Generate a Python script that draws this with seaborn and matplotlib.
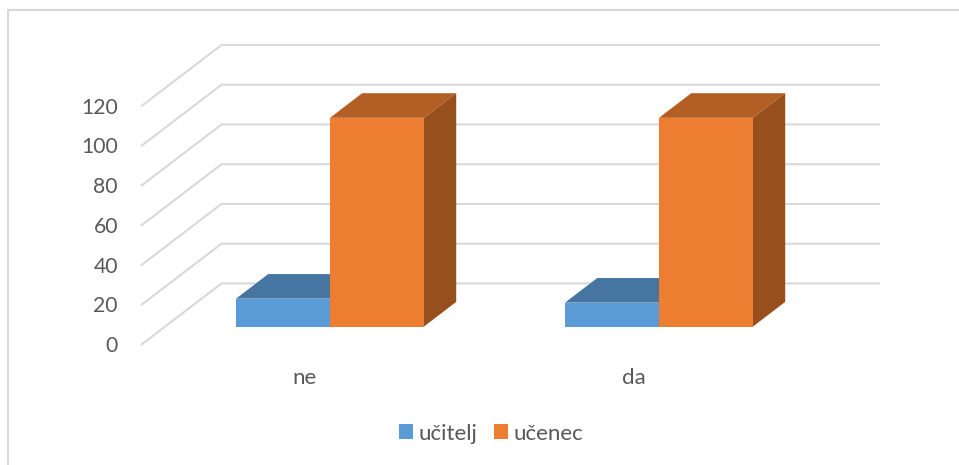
import matplotlib
matplotlib.use("Agg")
import matplotlib.pyplot as plt
from matplotlib.lines import Line2D
import numpy as np
import pandas as pd
import seaborn as sns

# Survey answers per respondent group
categories = ["ne", "da"]
groups = ["učitelj", "učenec"]
ucitelj = [14, 12]
ucenec = [105, 105]
value_ticks = [0, 20, 40, 60, 80, 100, 120]

front_colors = {"učitelj": "#5B9BD5", "učenec": "#ED7D31"}
top_colors = {"učitelj": "#4575A0", "učenec": "#B25E25"}
side_colors = {"učitelj": "#3C6690", "učenec": "#974F1D"}
GRID = "#D9D9D9"
TEXT = "#595959"

WIDTH, HEIGHT = 959, 465
PX_PER_CATEGORY = 329.0
PX_PER_UNIT = 1.9875
ORIGIN_X, ORIGIN_Y = 330.0, 326.5  # pixel position of the first category on the bar front plane

# Oblique depth of the floor, in data units
DEPTH_X = 80.5 / PX_PER_CATEGORY
DEPTH_Y = 61.5 / PX_PER_UNIT
BAR_FRONT, BAR_BACK = 0.3, 0.7  # bars occupy this share of the floor depth
RIGHT_WALL = (880.0 - ORIGIN_X) / PX_PER_CATEGORY

sns.set_theme(style="white")
plt.rcParams["font.family"] = ["Lato", "DejaVu Sans"]

df = pd.DataFrame({
    "odgovor": categories * 2,
    "skupina": [groups[0]] * 2 + [groups[1]] * 2,
    "vrednost": ucitelj + ucenec,
})

fig = plt.figure(figsize=(WIDTH / 100, HEIGHT / 100), dpi=100, facecolor="white")
ax = fig.add_axes([0, 0, 1, 1])

sns.barplot(data=df, x="odgovor", y="vrednost", hue="skupina", hue_order=groups,
            palette=front_colors, width=188 / PX_PER_CATEGORY, gap=0, saturation=1,
            linewidth=0, ax=ax, zorder=5)

ax.set_xlim(-ORIGIN_X / PX_PER_CATEGORY, (WIDTH - ORIGIN_X) / PX_PER_CATEGORY)
ax.set_ylim((ORIGIN_Y - HEIGHT) / PX_PER_UNIT, ORIGIN_Y / PX_PER_UNIT)
ax.axis("off")


def project(x, value, t):
    """Place a point of the floor grid: t runs from the front (0) to the back wall (1)."""
    return x + (t - BAR_FRONT) * DEPTH_X, value + (t - BAR_FRONT) * DEPTH_Y


# Gridlines: slanted on the side wall, horizontal on the back wall
left_wall = (141.0 - ORIGIN_X) / PX_PER_CATEGORY
for tick in value_ticks:
    x0, y0 = left_wall, tick - BAR_FRONT * DEPTH_Y
    x1, y1 = x0 + DEPTH_X, y0 + DEPTH_Y
    ax.plot([x0, x1, RIGHT_WALL], [y0, y1, y1], color=GRID, lw=1.5, zorder=1,
            solid_joinstyle="miter", solid_capstyle="butt")
    ax.text(x0 - 23 / PX_PER_CATEGORY, y0 + 0.4, str(tick), color=TEXT, fontsize=15.2,
            ha="right", va="center_baseline", zorder=6)

# Top and side faces extruded from each front bar
for container, group in zip(ax.containers, groups):
    for bar in container:
        xl, w, h = bar.get_x(), bar.get_width(), bar.get_height()
        dx = (BAR_BACK - BAR_FRONT) * DEPTH_X
        dy = (BAR_BACK - BAR_FRONT) * DEPTH_Y
        ax.fill([xl, xl + w, xl + w + dx, xl + dx], [h, h, h + dy, h + dy],
                color=top_colors[group], lw=0, zorder=3)
        ax.fill([xl + w, xl + w + dx, xl + w + dx, xl + w], [0, dy, h + dy, h],
                color=side_colors[group], lw=0, zorder=3)

# Category labels sit on the front edge of the floor
for pos, label in enumerate(categories):
    x_lab, _ = project(pos, 0, 0)
    ax.text(x_lab - 1 / PX_PER_CATEGORY, -25.0, label, color=TEXT, fontsize=16,
            ha="center", va="center_baseline")

handles, labels = ax.get_legend_handles_labels()
ax.legend(handles, labels, loc="center", bbox_to_anchor=(491.25 / WIDTH, 1 - 433.5 / HEIGHT),
          ncol=2, frameon=False, fontsize=16, labelcolor=TEXT,
          handlelength=0.63, handleheight=0.63, handletextpad=0.27, columnspacing=0.73,
          borderpad=0, borderaxespad=0)

# Chart area frame: left and top edges only
fig.add_artist(Line2D([7.5 / WIDTH, 7.5 / WIDTH, 1], [0, 1 - 10.5 / HEIGHT, 1 - 10.5 / HEIGHT],
                      color=GRID, lw=1.5, solid_joinstyle="miter"))

fig.savefig("out.png", dpi=100, facecolor="white")
